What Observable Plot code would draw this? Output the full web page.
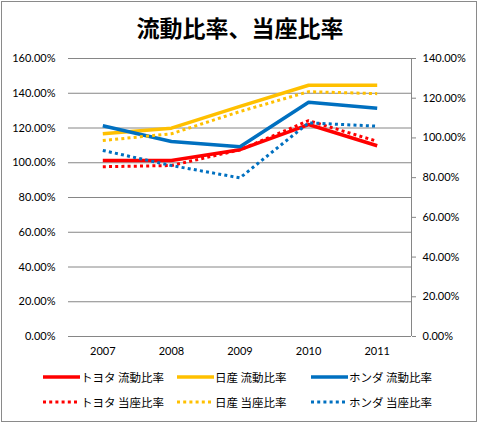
<!DOCTYPE html>
<html><head><meta charset="utf-8">
<script src="https://cdn.jsdelivr.net/npm/d3@7"></script>
<script src="https://cdn.jsdelivr.net/npm/@observablehq/plot@0.6"></script>
<style>
html,body{margin:0;padding:0;background:#fff;}
#wrap{position:relative;width:480px;height:424px;overflow:hidden;font-family:Lato,"Noto Sans CJK JP",sans-serif;}
#border{position:absolute;left:1px;top:1px;width:474px;height:419px;border:1px solid #8a8a8a;}
#title{position:absolute;left:0;top:10px;width:480px;text-align:center;font:bold 23px "Noto Sans CJK JP",sans-serif;line-height:34px;color:#000;}
#chart{position:absolute;left:0;top:48px;}
.leg{position:absolute;display:flex;align-items:center;font:11.5px "Noto Sans CJK JP",sans-serif;color:#000;white-space:nowrap;}
.leg svg{margin-right:1px;}
</style></head>
<body><div id="wrap"><div id="border"></div><div id="title">流動比率、当座比率</div><div id="chart"></div><div id="legend"></div></div>
<script>
const years = ["2007","2008","2009","2010","2011"];
// current ratio (流動比率) – left axis, %
const toyotaCurrent = [101.3, 101.3, 107.5, 122.0, 109.8];
const nissanCurrent = [116.7, 119.9, 132.4, 144.6, 144.6];
const hondaCurrent  = [121.3, 112.2, 109.2, 134.8, 131.4];
// quick ratio (当座比率) – right axis, %
const toyotaQuick = [85.5, 86.1, 94.0, 108.7, 98.3];
const nissanQuick = [98.7, 102.1, 113.3, 123.3, 122.3];
const hondaQuick  = [93.7, 86.1, 79.9, 107.6, 105.9];

const leftTicks  = [0, 20, 40, 60, 80, 100, 120, 140, 160];
const rightTicks = [0, 20, 40, 60, 80, 100, 120, 140];
const leftMax = 160, rightMax = 140;

const seriesNames = ["トヨタ 流動比率","日産 流動比率","ホンダ 流動比率","トヨタ 当座比率","日産 当座比率","ホンダ 当座比率"];
const seriesColors = ["#ff0000","#ffc000","#0070c0","#ff0000","#ffc000","#0070c0"];

const ratio = leftMax / rightMax;
const allSeries = [
  {vals: toyotaCurrent, right: false},
  {vals: nissanCurrent, right: false},
  {vals: hondaCurrent, right: false},
  {vals: toyotaQuick, right: true},
  {vals: nissanQuick, right: true},
  {vals: hondaQuick, right: true}
].map((s, k) => ({...s, name: seriesNames[k], color: seriesColors[k], dotted: s.right,
  rows: s.vals.map((v, i) => ({i, v: s.right ? v * ratio : v}))}));

const fmt = d => d.toFixed(2) + "%";

const lineMarks = allSeries.map(s => Plot.line(s.rows, {
  x: "i", y: "v", stroke: s.color,
  strokeWidth: s.dotted ? 3 : 3.5,
  strokeDasharray: s.dotted ? "3,3.2" : null,
  strokeLinecap: "butt", strokeLinejoin: "round"
}));

const chart = Plot.plot({
  width: 480, height: 313,
  marginLeft: 68, marginRight: 69, marginTop: 10, marginBottom: 25,
  style: {fontFamily: "Lato, 'Noto Sans CJK JP', sans-serif", color: "#000", background: "transparent"},
  x: {type: "linear", domain: [-0.5, years.length - 0.5]},
  y: {domain: [0, leftMax]},
  marks: [
    Plot.ruleY(leftTicks, {stroke: "#868686", strokeWidth: 1}),
    Plot.ruleX([years.length - 0.5], {stroke: "#868686", strokeWidth: 1}),
    Plot.axisY(leftTicks, {anchor: "left", tickSize: 0, tickPadding: 13, tickFormat: fmt, fontSize: 11, label: null}),
    Plot.axisY(rightTicks.map(d => d * ratio), {anchor: "right", tickSize: 4, tickPadding: 7, stroke: "#868686",
      tickFormat: d => fmt(Math.round(d / ratio)), fontSize: 11, label: null}),
    Plot.axisX(years.map((d, i) => i), {tickSize: 0, tickPadding: 11, tickFormat: i => years[i], fontSize: 11, label: null}),
    ...lineMarks
  ]
});
document.getElementById("chart").appendChild(chart);

// legend
const legend = document.getElementById("legend");
const colX = [43, 177, 311];
const rowY = [377, 402];
allSeries.forEach((s, k) => {
  const el = document.createElement("div");
  el.className = "leg";
  el.style.left = colX[k % 3] + "px";
  el.style.top = (rowY[Math.floor(k / 3)] - 10) + "px";
  el.style.height = "20px";
  const sw = d3.create("svg").attr("width", 37).attr("height", 20);
  sw.append("line").attr("x1", 0).attr("x2", 37).attr("y1", 10).attr("y2", 10)
    .attr("stroke", s.color).attr("stroke-width", s.dotted ? 3 : 3.5)
    .attr("stroke-dasharray", s.dotted ? "3,3.2" : null);
  el.appendChild(sw.node());
  const t = document.createElement("span");
  t.textContent = s.name;
  el.appendChild(t);
  legend.appendChild(el);
});
</script></body></html>
